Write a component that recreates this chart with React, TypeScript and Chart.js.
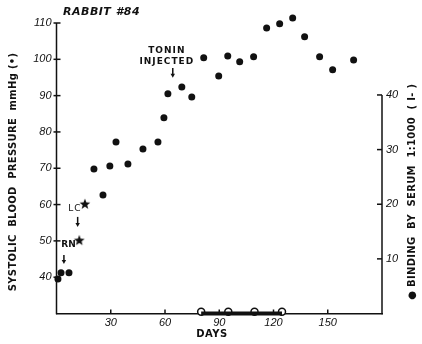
import React, { useEffect, useRef } from "react";
import { Chart, registerables } from "chart.js";

Chart.register(...registerables);

// Systolic blood pressure (filled circles)
const bpDays = [0.8, 2.5, 6.9, 20.7, 25.7, 29.5, 32.9, 39.5, 47.8, 56.1, 59.4, 61.6, 69.3, 74.8, 81.4, 89.7, 94.7, 101.3, 109, 116.2, 123.4, 130.6, 137.2, 145.5, 152.7, 164.3];
const bpValues = [39.5, 41.2, 41.2, 69.8, 62.6, 70.6, 77.2, 71.2, 75.3, 77.2, 83.9, 90.5, 92.4, 89.6, 100.4, 95.4, 100.9, 99.3, 100.7, 108.6, 109.8, 111.4, 106.2, 100.7, 97.1, 99.8];
// Blood pressure after surgery (stars)
const starDays = [12.6, 15.7];
const starValues = [50.2, 60.2];
// Binding by serum (open circles)
const bindingDays = [80, 95, 109.5, 124.7];
const bindingValues = [0.3, 0.3, 0.3, 0.3];
const barValues = [0, 0];

const xTicks = [30, 60, 90, 120, 150];
const bpTicks = [40, 50, 60, 70, 80, 90, 100, 110];
const bindingTicks = [10, 20, 30, 40];

const FONT = "'DejaVu Sans', sans-serif";
const INK = "#111";

function makeStar(): HTMLCanvasElement {
  const c = document.createElement("canvas");
  c.width = 12;
  c.height = 12;
  const g = c.getContext("2d")!;
  g.fillStyle = INK;
  g.beginPath();
  for (let i = 0; i < 10; i++) {
    const r = i % 2 === 0 ? 5.6 : 2.4;
    const a = -Math.PI / 2 + (i * Math.PI) / 5;
    const px = 6 + r * Math.cos(a);
    const py = 6.4 + r * Math.sin(a);
    if (i === 0) g.moveTo(px, py);
    else g.lineTo(px, py);
  }
  g.closePath();
  g.fill();
  return c;
}

const labels = [
  { text: "RABBIT #84", day: 3.6, value: 113, font: `italic bold 11px ${FONT}`, align: "left", spacing: "0.5px" },
  { text: "TONIN", day: 61, value: 102.3, font: `bold 9px ${FONT}`, align: "center", spacing: "1px" },
  { text: "INJECTED", day: 61, value: 99.3, font: `bold 9px ${FONT}`, align: "center", spacing: "1px" },
  { text: "LC", day: 10.2, value: 58.8, font: `9px ${FONT}`, align: "center", spacing: "1px" },
  { text: "RN", day: 6.6, value: 48.9, font: `bold 9px ${FONT}`, align: "center", spacing: "0px" },
];
const arrows = [
  { day: 64.3, from: 97.6, to: 94.9 },
  { day: 11.7, from: 56.6, to: 53.8 },
  { day: 4.1, from: 46.1, to: 43.6 },
];

const drawPlugin = {
  id: "paperDecor",
  afterDraw(chart: any) {
    const { ctx, chartArea } = chart;
    const xs = chart.scales.x;
    const ys = chart.scales.y;
    const y2 = chart.scales.y2;
    ctx.save();
    ctx.strokeStyle = INK;
    ctx.fillStyle = INK;
    ctx.lineWidth = 1.5;

    // left axis line 30..110
    const lx = chartArea.left;
    ctx.beginPath();
    ctx.moveTo(lx, ys.getPixelForValue(30) + 0.75);
    ctx.lineTo(lx, ys.getPixelForValue(110));
    ctx.stroke();
    bpTicks.forEach((v) => {
      const py = ys.getPixelForValue(v);
      ctx.beginPath();
      ctx.moveTo(lx - 3, py);
      ctx.lineTo(lx + 4, py);
      ctx.stroke();
    });

    // right axis line 0..40
    const rx = chartArea.right;
    ctx.beginPath();
    ctx.moveTo(rx, y2.getPixelForValue(0) + 0.75);
    ctx.lineTo(rx, y2.getPixelForValue(40));
    ctx.stroke();
    bindingTicks.forEach((v) => {
      const py = y2.getPixelForValue(v);
      ctx.beginPath();
      ctx.moveTo(rx - 5, py);
      ctx.lineTo(rx, py);
      ctx.stroke();
    });

    // x ticks inward
    const by = chartArea.bottom;
    xTicks.forEach((v) => {
      const px = xs.getPixelForValue(v);
      ctx.beginPath();
      ctx.moveTo(px, by);
      ctx.lineTo(px, by - 4);
      ctx.stroke();
    });

    // annotations
    ctx.textBaseline = "middle";
    labels.forEach((l) => {
      ctx.font = l.font;
      (ctx as any).letterSpacing = l.spacing;
      ctx.textAlign = l.align as CanvasTextAlign;
      ctx.fillText(l.text, xs.getPixelForValue(l.day), ys.getPixelForValue(l.value));
    });
    (ctx as any).letterSpacing = "0px";
    arrows.forEach((a) => {
      const px = xs.getPixelForValue(a.day);
      const p1 = ys.getPixelForValue(a.from);
      const p2 = ys.getPixelForValue(a.to);
      ctx.lineWidth = 1.5;
      ctx.beginPath();
      ctx.moveTo(px, p1);
      ctx.lineTo(px, p2 - 3);
      ctx.stroke();
      ctx.beginPath();
      ctx.moveTo(px - 2.2, p2 - 4);
      ctx.lineTo(px + 2.2, p2 - 4);
      ctx.lineTo(px, p2);
      ctx.closePath();
      ctx.fill();
    });

    // axis titles
    ctx.font = `bold 10px ${FONT}`;
    (ctx as any).letterSpacing = "0.3px";
    ctx.textAlign = "center";
    ctx.save();
    ctx.translate(13, ys.getPixelForValue(69));
    ctx.rotate(-Math.PI / 2);
    ctx.fillText("SYSTOLIC  BLOOD  PRESSURE  mmHg (•)", 0, 0);
    ctx.restore();

    ctx.save();
    ctx.translate(412, y2.getPixelForValue(22.3));
    ctx.rotate(-Math.PI / 2);
    ctx.fillText("● BINDING  BY  SERUM  1:1000  ( I- )", 0, 0);
    ctx.restore();

    (ctx as any).letterSpacing = "0.5px";
    ctx.fillText("DAYS", xs.getPixelForValue(86), 334);
    ctx.restore();
  },
};

export default function App() {
  const ref = useRef<HTMLCanvasElement>(null);
  useEffect(() => {
    if (!ref.current) return;
    const star = makeStar();
    const chart = new Chart(ref.current, {
      type: "scatter",
      data: {
        datasets: [
          {
            data: [bindingDays[0], bindingDays[bindingDays.length - 1]].map((d, i) => ({ x: d, y: barValues[i] })),
            yAxisID: "y2",
            showLine: true,
            borderColor: INK,
            borderWidth: 4,
            pointRadius: 0,
            clip: false,
          },
          {
            data: bindingDays.map((d, i) => ({ x: d, y: bindingValues[i] })),
            yAxisID: "y2",
            pointRadius: 3.5,
            pointBackgroundColor: "#fff",
            pointBorderColor: INK,
            pointBorderWidth: 1.5,
            clip: false,
          },
          {
            data: bpDays.map((d, i) => ({ x: d, y: bpValues[i] })),
            yAxisID: "y",
            pointRadius: 3.5,
            pointBackgroundColor: INK,
            pointBorderColor: INK,
            pointBorderWidth: 0,
            clip: false,
          },
          {
            data: starDays.map((d, i) => ({ x: d, y: starValues[i] })),
            yAxisID: "y",
            pointStyle: star as any,
            pointRadius: 5,
            clip: false,
          },
        ] as any,
      },
      options: {
        responsive: false,
        animation: false,
        layout: { padding: { top: 15.74, left: 0, right: 0, bottom: 0 } },
        plugins: { legend: { display: false }, tooltip: { enabled: false } },
        scales: {
          x: {
            type: "linear",
            min: 0,
            max: 180,
            afterFit: (s: any) => {
              s.height = 30.5;
            },
            afterBuildTicks: (s: any) => {
              s.ticks = xTicks.map((v) => ({ value: v }));
            },
            grid: { display: false, drawTicks: false },
            border: { display: true, color: INK, width: 1.5 },
            ticks: { font: { family: "'Liberation Sans', sans-serif", size: 11, style: "italic" }, color: INK, padding: 3, maxRotation: 0 },
          },
          y: {
            position: "left",
            min: 30,
            max: 112,
            afterFit: (s: any) => {
              s.width = 56.5;
            },
            afterBuildTicks: (s: any) => {
              s.ticks = bpTicks.map((v) => ({ value: v }));
            },
            grid: { display: false, drawTicks: false },
            border: { display: false },
            ticks: { font: { family: "'Liberation Sans', sans-serif", size: 11, style: "italic" }, color: INK, padding: 5 },
          },
          y2: {
            position: "right",
            min: 0,
            max: 54.5,
            afterFit: (s: any) => {
              s.width = 40;
            },
            afterBuildTicks: (s: any) => {
              s.ticks = bindingTicks.map((v) => ({ value: v }));
            },
            grid: { display: false, drawTicks: false },
            border: { display: false },
            ticks: { font: { family: "'Liberation Sans', sans-serif", size: 11, style: "italic" }, color: INK, padding: 4 },
          },
        },
      } as any,
      plugins: [drawPlugin],
    });
    return () => chart.destroy();
  }, []);
  return (
    <div style={{ position: "absolute", left: 0, top: 0, width: 422, height: 344, background: "#fff" }}>
      <canvas ref={ref} width={422} height={344} />
    </div>
  );
}
